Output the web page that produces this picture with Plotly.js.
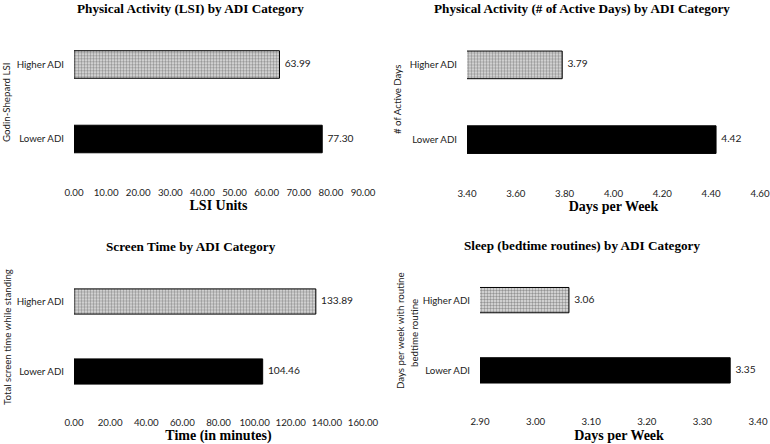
<!DOCTYPE html>
<html>
<head>
<meta charset="utf-8">
<script src="https://cdn.plot.ly/plotly-3.0.1.min.js"></script>
<style>html,body{margin:0;padding:0;background:#fff;}#chart{width:770px;height:444px;}</style>
</head>
<body>
<div id="chart"></div>
<script>
var categories = ['Lower ADI', 'Higher ADI'];
var lsiValues = [77.30, 63.99];
var activeDaysValues = [4.42, 3.79];
var screenTimeValues = [104.46, 133.89];
var sleepValues = [3.35, 3.06];

var panelTitles = [
  'Physical Activity (LSI) by ADI Category',
  'Physical Activity (# of Active Days) by ADI Category',
  'Screen Time by ADI Category',
  'Sleep (bedtime routines) by ADI Category'
];
var xTitles = ['LSI Units', 'Days per Week', 'Time (in minutes)', 'Days per Week'];
var yTitles = ['Godin-Shepard LSI', '# of Active Days', 'Total screen time while standing', ['Days per week with routine', 'bedtime routine']];

var W = 770, H = 444;
var tickFont = {family: 'Lato, "Liberation Sans", sans-serif', size: 9.7, color: '#222'};
var serifBold = 'Liberation Serif, "Times New Roman", serif';

function traces(vals, idx) {
  var s = idx === 1 ? '' : String(idx);
  var bar = {
    type: 'bar', orientation: 'h',
    y: categories, x: vals,
    xaxis: 'x' + s, yaxis: 'y' + s,
    width: idx <= 2 ? 0.37 : 0.36,
    marker: {
      color: ['#000000', '#e4e4e4'],
      line: {color: '#000000', width: 1},
      pattern: {shape: ['', '.'], fgcolor: '#444444', size: 3, solidity: 0.5, fillmode: 'overlay'}
    },
    hoverinfo: 'x+y',
    showlegend: false
  };
  var labels = {
    type: 'scatter', mode: 'text',
    y: categories, x: vals,
    xaxis: 'x' + s, yaxis: 'y' + s,
    texttemplate: '\u00a0\u00a0%{x:.2f}',
    textposition: 'middle right',
    textfont: {family: tickFont.family, size: 10.2, color: '#222'},
    cliponaxis: false,
    hoverinfo: 'skip',
    showlegend: false
  };
  return [bar, labels];
}

var data = [].concat(
  traces(lsiValues, 1),
  traces(activeDaysValues, 2),
  traces(screenTimeValues, 3),
  traces(sleepValues, 4)
);

function xd(a, b) { return [a / W, b / W]; }
function yd(top, bottom) { return [1 - bottom / H, 1 - top / H]; }

function xAxis(dom, range, dtick, anchor, title) {
  return {
    domain: dom, range: [range[0], range[1] + dtick * 1e-6], dtick: dtick, tick0: range[0], tickformat: '.2f',
    anchor: anchor, showgrid: false, zeroline: false, showline: false, ticks: '',
    tickfont: tickFont, ticklabelstandoff: 9, ticklabeloverflow: 'allow', fixedrange: true,
    title: {text: '<b>' + title + '</b>', font: {family: serifBold, size: 14, color: '#000'}, standoff: 3}
  };
}
function yAxis(dom, anchor) {
  return {
    domain: dom, range: [-0.5, 1.5], anchor: anchor, type: 'category',
    showgrid: false, zeroline: false, showline: false, ticks: '',
    tickfont: tickFont, ticklabelstandoff: 9, fixedrange: true
  };
}

var layout = {
  width: W, height: H,
  margin: {l: 0, r: 0, t: 0, b: 0},
  paper_bgcolor: '#fff', plot_bgcolor: '#fff',
  xaxis: xAxis(xd(74, 363), [0, 90], 10, 'y', xTitles[0]),
  yaxis: yAxis(yd(27.25, 176.25), 'x'),
  xaxis2: xAxis(xd(467, 760), [3.4, 4.6], 0.2, 'y2', xTitles[1]),
  yaxis2: yAxis(yd(27.5, 177), 'x2'),
  xaxis3: xAxis(xd(74, 363), [0, 160], 20, 'y3', xTitles[2]),
  yaxis3: yAxis(yd(266.5, 406.5), 'x3'),
  xaxis4: xAxis(xd(480, 758), [2.9, 3.4], 0.1, 'y4', xTitles[3]),
  yaxis4: yAxis(yd(265, 405.5), 'x4'),
  annotations: []
};

var titlePos = [[190, 8], [582, 8], [191, 246], [582, 245]];
titlePos.forEach(function (p, i) {
  layout.annotations.push({
    text: '<b>' + panelTitles[i] + '</b>', xref: 'paper', yref: 'paper',
    x: p[0] / W, y: 1 - p[1] / H, xanchor: 'center', yanchor: 'middle',
    showarrow: false, font: {family: serifBold, size: 13.2, color: '#000'}
  });
});
var yTitlePos = [[[6, 103]], [[397, 100]], [[7, 337]], [[400, 330], [414, 333]]];
yTitlePos.forEach(function (lines, i) {
  var texts = Array.isArray(yTitles[i]) ? yTitles[i] : [yTitles[i]];
  lines.forEach(function (p, j) {
    layout.annotations.push({
      text: texts[j], xref: 'paper', yref: 'paper', textangle: -90,
      x: p[0] / W, y: 1 - p[1] / H, xanchor: 'center', yanchor: 'middle',
      showarrow: false, font: tickFont
    });
  });
});

Plotly.newPlot('chart', data, layout, {displayModeBar: false, staticPlot: true});
</script>
</body>
</html>
